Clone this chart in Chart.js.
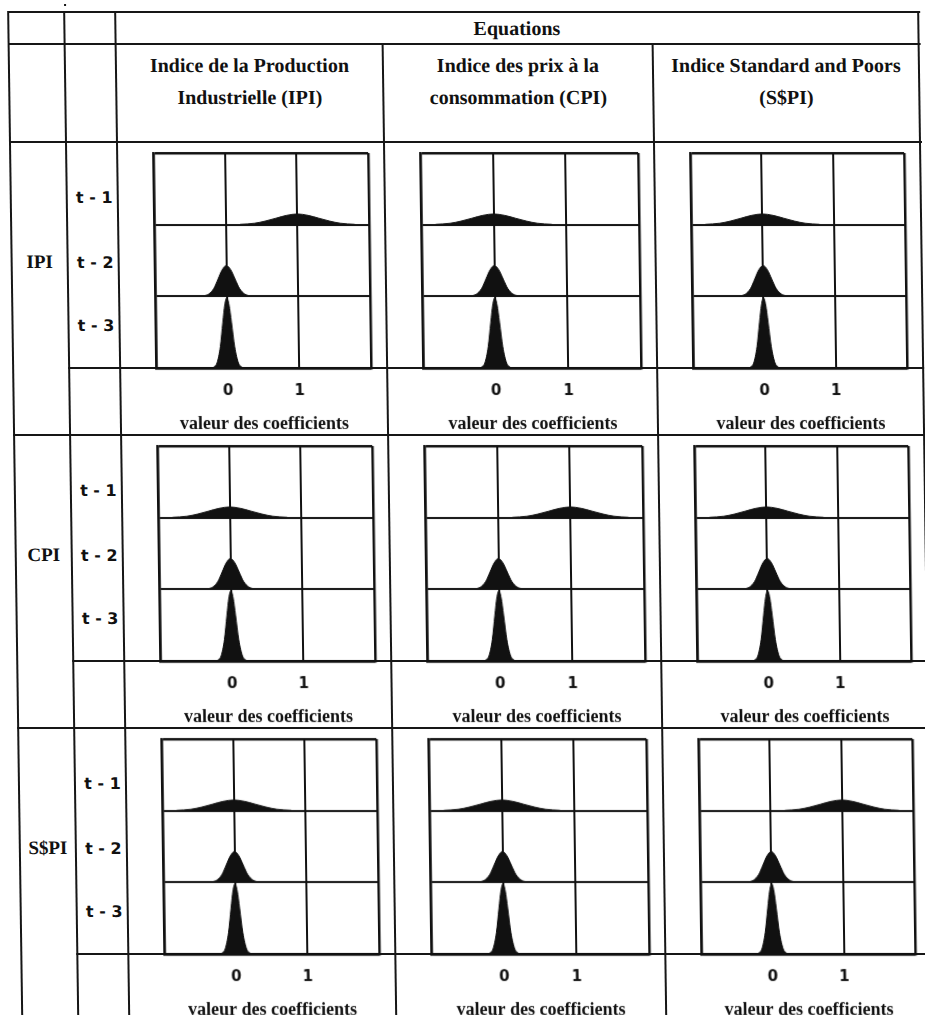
<!DOCTYPE html>
<html>
<head>
<meta charset="utf-8">
<script src="https://cdn.jsdelivr.net/npm/chart.js@4.4.0/dist/chart.umd.min.js"></script>
<style>
  body { margin: 0; background: #fff; width: 925px; height: 1015px; overflow: hidden; }
  #page { position: absolute; left: 0; top: 0; width: 925px; height: 1015px;
          transform: skewX(0.8deg); transform-origin: 0 0; }
  .ln { position: absolute; background: #161616; }
  .txt { position: absolute; transform: translate(-50%, -50%); white-space: nowrap; color: #111; }
  .serif { font-family: 'Liberation Serif', serif; font-weight: bold; font-size: 20px; }
  .var { font-family: 'Liberation Serif', serif; font-weight: bold; font-size: 19px; }
  .lag { font-family: 'DejaVu Sans', sans-serif; font-weight: bold; font-size: 16px; }
  canvas { position: absolute; }
</style>
</head>
<body>
<div id="page"></div>
<script>
// --- data ---
const equationTitles = [
    ['Indice de la Production', 'Industrielle (IPI)'],
    ['Indice des prix à la', 'consommation (CPI)'],
    ['Indice Standard and Poors', '(S$PI)']
];
const variables = ['IPI', 'CPI', 'S$PI'];
const lags = ['t - 1', 't - 2', 't - 3'];
const xLabelled = [0, 1];
const xMin = -1;
const xMax = 2;
const axisTitle = 'valeur des coefficients';

// density shapes (offset from centre, height in row units)
const lag1Offsets = [-0.8, -0.6, -0.45, -0.3, -0.15, 0, 0.15, 0.3, 0.45, 0.6, 0.8];
const lag1Heights = [0.005, 0.02, 0.05, 0.09, 0.13, 0.15, 0.13, 0.09, 0.05, 0.02, 0.005];
const lag2Offsets = [-0.33, -0.25, -0.18, -0.12, -0.06, 0, 0.06, 0.12, 0.18, 0.25, 0.33];
const lag2Heights = [0.005, 0.033, 0.11, 0.24, 0.37, 0.43, 0.37, 0.24, 0.11, 0.033, 0.005];
const lag3Offsets = [-0.2, -0.15, -0.1, -0.06, -0.03, 0, 0.03, 0.06, 0.1, 0.15, 0.2];
const lag3Heights = [0.01, 0.07, 0.3, 0.64, 0.88, 0.98, 0.88, 0.64, 0.3, 0.07, 0.01];

// centre of each curve: [variable row][equation column]
const lag1Centres = [[1, 0, 0], [0, 1, 0], [0, 0, 1]];
const lag2Centres = [[0, 0, 0], [0, 0, 0], [0, 0, 0]];
const lag3Centres = [[0, 0, 0], [0, 0, 0], [0, 0, 0]];

// --- layout ---
const page = document.getElementById('page');
const colX = [8, 64, 115, 382, 652, 918];
const headTop = 12, headMid = 44, headBottom = 142;
const rowH = 293, plotCellH = 226;
const ink = '#111';

function line(x, y, w, h) {
    const d = document.createElement('div');
    d.className = 'ln';
    d.style.left = x + 'px'; d.style.top = y + 'px';
    d.style.width = w + 'px'; d.style.height = h + 'px';
    page.appendChild(d);
}

function text(str, x, y, cls) {
    const d = document.createElement('div');
    d.className = 'txt ' + cls;
    d.style.left = x + 'px'; d.style.top = y + 'px';
    d.textContent = str;
    page.appendChild(d);
}

// table rules
const fullW = colX[5] - colX[0] + 2;
[headTop, headMid, headBottom].forEach(y => line(colX[0], y - 1, fullW, 2));
[0, 1, 2, 5].forEach(i => line(colX[i] - 1, headTop - 1, 2, 1100));
[3, 4].forEach(i => line(colX[i] - 1, headMid - 1, 2, 1100));
for (let r = 0; r < 3; r++) {
    const top = headBottom + r * rowH;
    line(colX[1] - 1, top + plotCellH - 1, colX[5] - colX[1] + 2, 2);
    line(colX[0] - 1, top + rowH - 1, fullW, 2);
}
line(64, 4, 2, 2);

// headings
text('Equations', (colX[2] + colX[5]) / 2, 28, 'serif');
equationTitles.forEach((t, c) => {
    const cx = (colX[c + 2] + colX[c + 3]) / 2;
    text(t[0], cx, 65, 'serif');
    text(t[1], cx, 97, 'serif');
});
variables.forEach((v, r) => {
    const top = headBottom + r * rowH;
    text(v, (colX[0] + colX[1]) / 2, top + 120, 'var');
    lags.forEach((l, k) => text(l, (colX[1] + colX[2]) / 2 + 2, top + [55, 120, 183][k], 'lag'));
});

function curve(offsets, heights, centre, base) {
    return {
        data: offsets.map((o, i) => ({ x: centre + o, y: base + heights[i] })),
        fill: { value: base },
        backgroundColor: ink,
        borderColor: ink,
        borderWidth: 1,
        pointRadius: 0,
        cubicInterpolationMode: 'monotone'
    };
}

variables.forEach((v, r) => {
    equationTitles.forEach((t, c) => {
        const canvas = document.createElement('canvas');
        const w = colX[c + 3] - colX[c + 2];
        canvas.width = w;
        canvas.height = rowH;
        canvas.style.left = colX[c + 2] + 'px';
        canvas.style.top = (headBottom + r * rowH) + 'px';
        page.appendChild(canvas);

        const edge = (ctx, lo, hi) => (ctx.tick && (ctx.tick.value === lo || ctx.tick.value === hi)) ? 2.5 : 2;

        new Chart(canvas.getContext('2d'), {
            type: 'line',
            data: {
                datasets: [
                    curve(lag1Offsets, lag1Heights, lag1Centres[r][c], 2),
                    curve(lag2Offsets, lag2Heights, lag2Centres[r][c], 1),
                    curve(lag3Offsets, lag3Heights, lag3Centres[r][c], 0)
                ]
            },
            options: {
                responsive: false,
                animation: false,
                events: [],
                layout: { padding: { left: 36, right: 16, top: 11, bottom: 0 } },
                plugins: { legend: { display: false }, tooltip: { enabled: false } },
                scales: {
                    x: {
                        type: 'linear',
                        min: xMin,
                        max: xMax,
                        ticks: {
                            stepSize: 1,
                            padding: 14,
                            maxRotation: 0,
                            autoSkip: false,
                            color: ink,
                            font: { family: 'DejaVu Sans', weight: 'bold', size: 15 },
                            callback: val => xLabelled.includes(val) ? String(val) : ''
                        },
                        grid: { color: ink, lineWidth: ctx => edge(ctx, xMin, xMax), drawTicks: false },
                        border: { color: ink, width: 2.5 },
                        title: {
                            display: true,
                            text: axisTitle,
                            color: ink,
                            font: { family: 'Liberation Serif', size: 18, weight: 'bold' },
                            padding: { top: 0, bottom: 0 }
                        },
                        afterFit: scale => { scale.height = rowH - plotCellH; }
                    },
                    y: {
                        min: 0,
                        max: 3,
                        ticks: { display: false, stepSize: 1 },
                        grid: { color: ink, lineWidth: ctx => edge(ctx, 0, 3), drawTicks: false },
                        border: { color: ink, width: 2.5 },
                        afterFit: scale => { scale.width = 0; }
                    }
                }
            }
        });
    });
});
</script>
</body>
</html>
